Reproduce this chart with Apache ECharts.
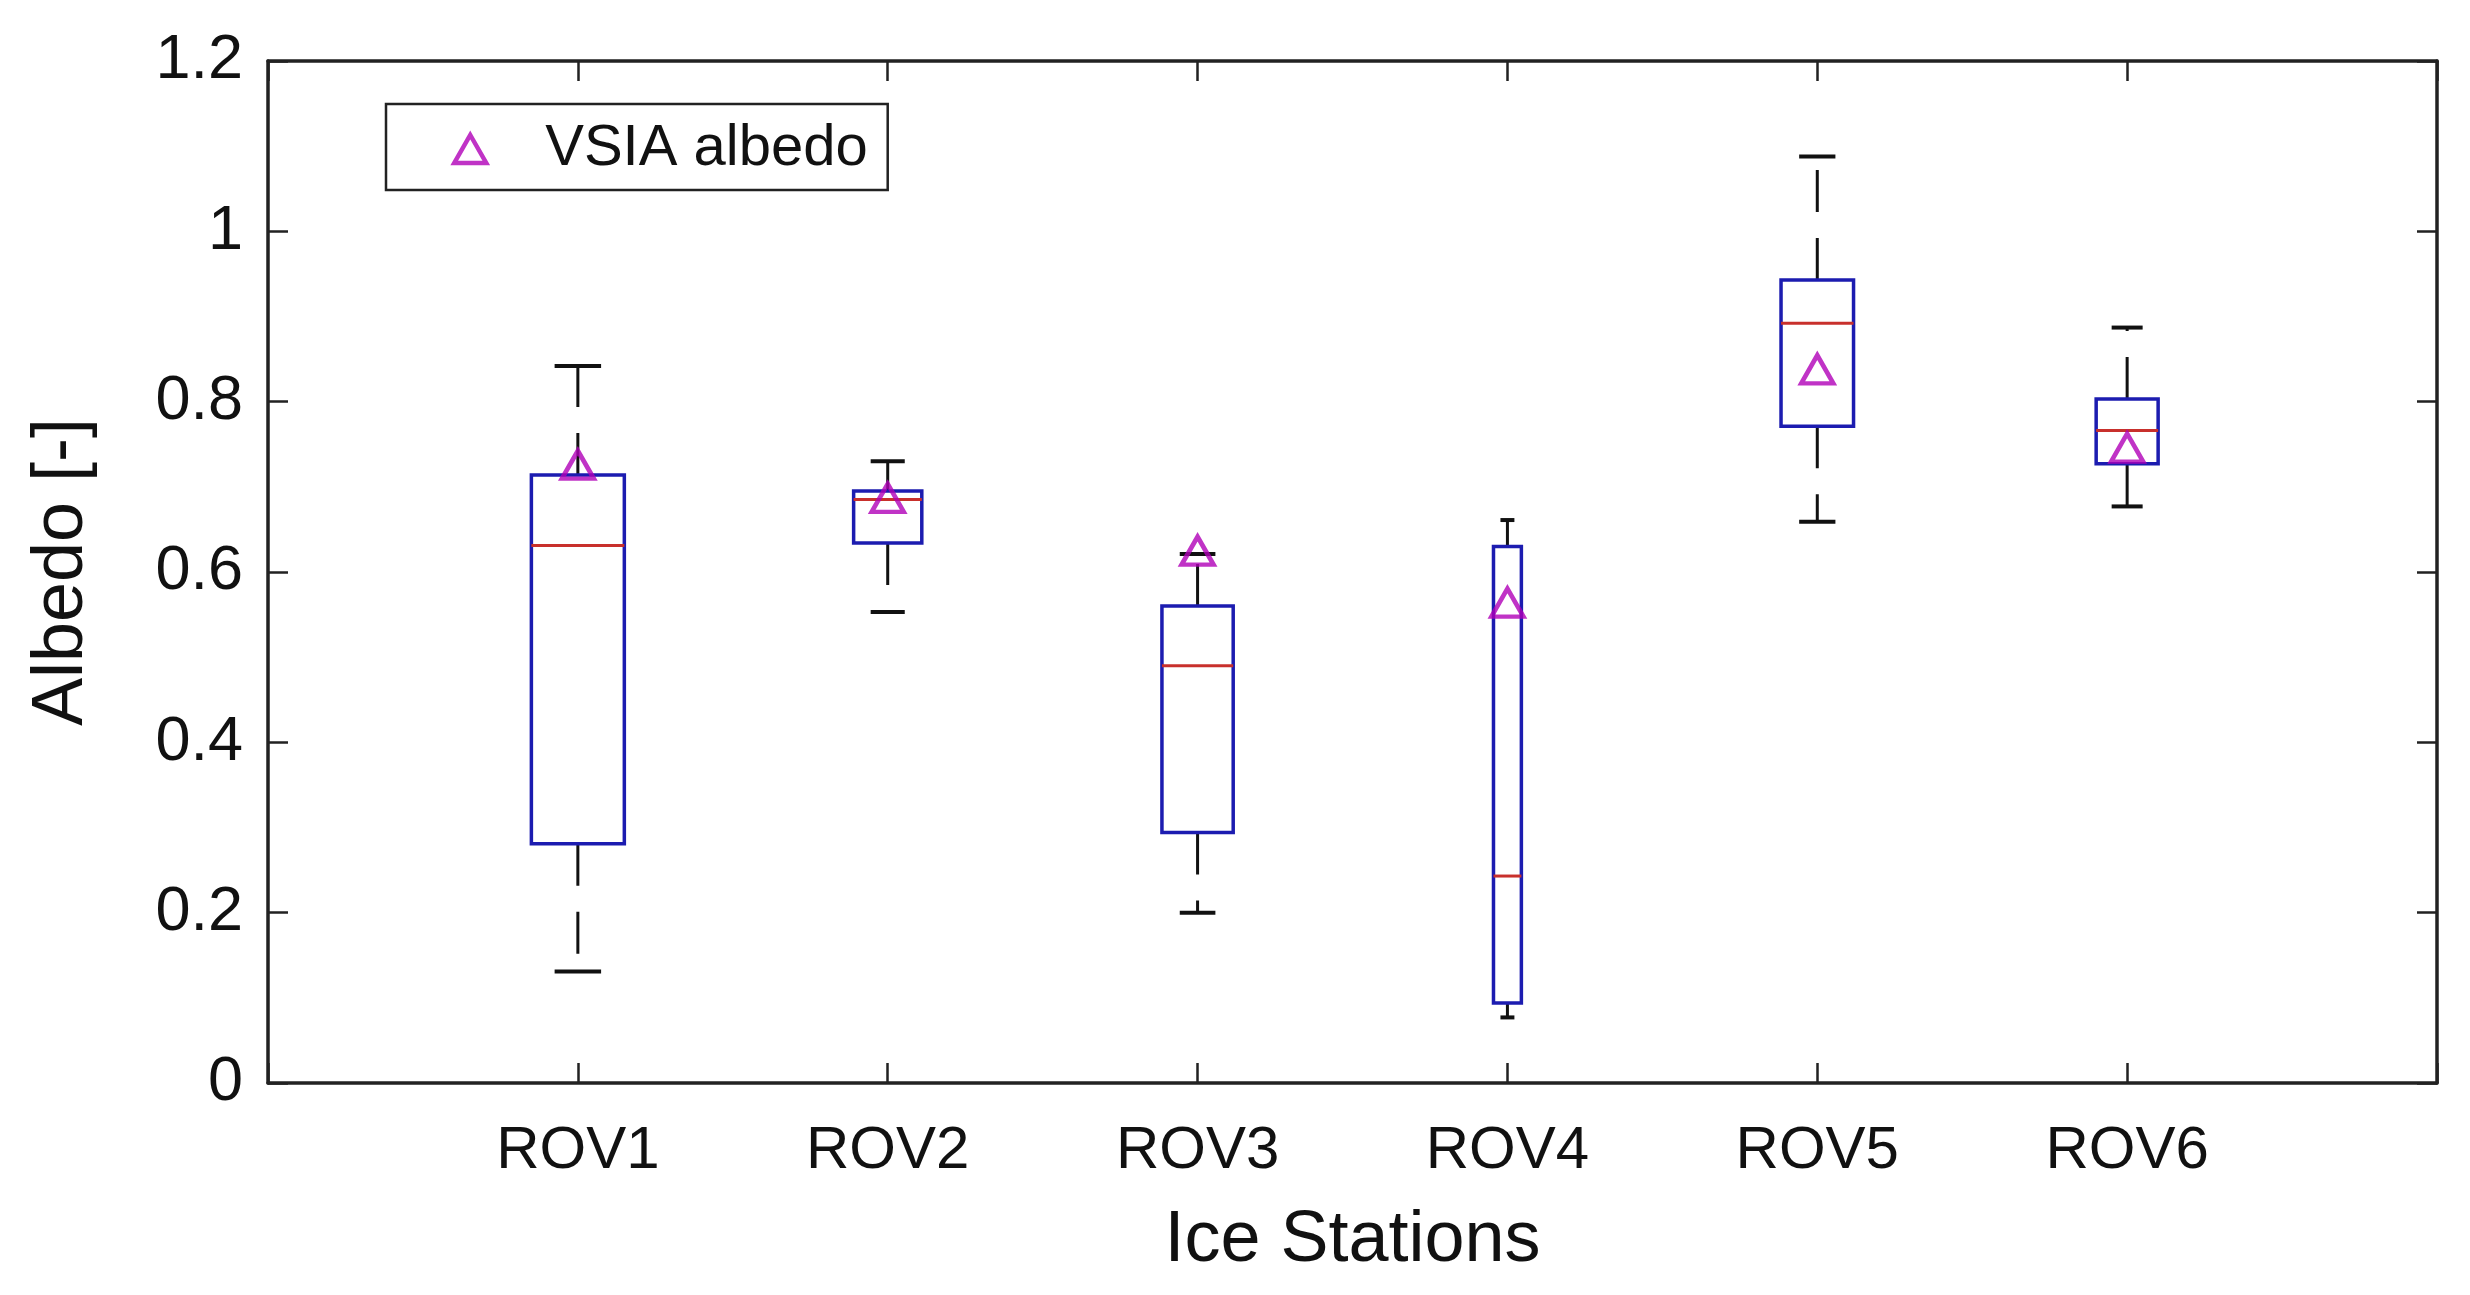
<!DOCTYPE html>
<html>
<head>
<meta charset="utf-8">
<title>Albedo per ice station</title>
<script src="https://cdn.jsdelivr.net/npm/echarts@6/dist/echarts.min.js"></script>
<style>
  html, body { margin: 0; padding: 0; background: #fff; }
  #chart { width: 2470px; height: 1295px; }
</style>
</head>
<body>
<div id="chart"></div>
<script>
// stations along the x axis
var stations = ['ROV1', 'ROV2', 'ROV3', 'ROV4', 'ROV5', 'ROV6'];

// box plot statistics
var whiskerLow  = [0.131, 0.553, 0.200, 0.077, 0.659, 0.677];
var quartile1   = [0.281, 0.634, 0.294, 0.094, 0.771, 0.727];
var median      = [0.631, 0.685, 0.490, 0.243, 0.892, 0.766];
var quartile3   = [0.714, 0.695, 0.560, 0.630, 0.943, 0.803];
var whiskerHigh = [0.842, 0.730, 0.621, 0.661, 1.088, 0.887];

// VSIA albedo per station
var vsiaAlbedo  = [0.726, 0.687, 0.625, 0.564, 0.838, 0.746];

// y tick values
var yTicks = [0, 0.2, 0.4, 0.6, 0.8, 1, 1.2];

// box widths in x units (style only)
var boxWidths = [0.30, 0.22, 0.23, 0.09, 0.234, 0.20];

var FONT = '"Liberation Sans", Arial, Helvetica, sans-serif';
var BOX_COLOR = '#1c1cb0';
var MED_COLOR = '#c8302c';
var WHISK_COLOR = '#111';
var TRI_COLOR = '#b000b8';

var chart = echarts.init(document.getElementById('chart'));

var boxData = stations.map(function (s, i) {
  return [i + 1, whiskerLow[i], quartile1[i], median[i], quartile3[i], whiskerHigh[i]];
});

function renderBox(params, api) {
  var i = params.dataIndex;
  var x = api.value(0);
  var pLow = api.coord([x, api.value(1)]);
  var pQ1 = api.coord([x, api.value(2)]);
  var pMed = api.coord([x, api.value(3)]);
  var pQ3 = api.coord([x, api.value(4)]);
  var pHigh = api.coord([x, api.value(5)]);
  var w = api.size([boxWidths[i], 0])[0];
  var cx = pMed[0];
  var half = w / 2;
  var capHalf = w / 4;
  var whiskStyle = { stroke: WHISK_COLOR, lineWidth: 3, lineDash: [42, 26] };
  var capStyle = { stroke: WHISK_COLOR, lineWidth: 4 };
  return {
    type: 'group',
    children: [
      { type: 'line', shape: { x1: cx, y1: pQ3[1], x2: cx, y2: pHigh[1] }, style: whiskStyle },
      { type: 'line', shape: { x1: cx, y1: pQ1[1], x2: cx, y2: pLow[1] }, style: whiskStyle },
      { type: 'line', shape: { x1: cx - capHalf, y1: pHigh[1], x2: cx + capHalf, y2: pHigh[1] }, style: capStyle },
      { type: 'line', shape: { x1: cx - capHalf, y1: pLow[1], x2: cx + capHalf, y2: pLow[1] }, style: capStyle },
      {
        type: 'rect',
        shape: { x: cx - half, y: pQ3[1], width: w, height: pQ1[1] - pQ3[1] },
        style: { fill: 'none', stroke: BOX_COLOR, lineWidth: 3.5 }
      },
      { type: 'line', shape: { x1: cx - half, y1: pMed[1], x2: cx + half, y2: pMed[1] }, style: { stroke: MED_COLOR, lineWidth: 3 } }
    ]
  };
}

var axisLineStyle = { color: '#222', width: 3.5 };
var tickStyle = { show: true, inside: true, length: 20, lineStyle: { color: '#222', width: 2.5 } };

var option = {
  backgroundColor: '#fff',
  animation: false,
  grid: { left: 268, right: 33, top: 61, bottom: 212 },
  legend: {
    data: ['VSIA albedo'],
    left: 386,
    top: 104,
    orient: 'vertical',
    backgroundColor: '#fff',
    borderColor: '#222',
    borderWidth: 2.5,
    borderRadius: 0,
    padding: [16, 20, 12, 66],
    itemWidth: 32,
    itemHeight: 28,
    itemStyle: { color: 'rgba(255,255,255,0)', borderColor: TRI_COLOR, borderWidth: 4.5 },
    textStyle: { fontFamily: FONT, fontSize: 58, color: '#111', padding: [8, 0, 0, 54] }
  },
  xAxis: [{
    type: 'value',
    min: 0,
    max: 7,
    interval: 1,
    position: 'bottom',
    name: 'Ice Stations',
    nameLocation: 'middle',
    nameGap: 122,
    nameTextStyle: { fontFamily: FONT, fontSize: 72, color: '#111' },
    axisLine: { show: true, onZero: false, lineStyle: axisLineStyle },
    axisTick: tickStyle,
    axisLabel: {
      fontFamily: FONT, fontSize: 60, color: '#111', margin: 38,
      formatter: function (v) { return stations[v - 1] || ''; }
    },
    splitLine: { show: false }
  }, {
    type: 'value',
    min: 0,
    max: 7,
    interval: 1,
    position: 'top',
    axisLine: { show: true, onZero: false, lineStyle: axisLineStyle },
    axisTick: tickStyle,
    axisLabel: { show: false },
    splitLine: { show: false }
  }],
  yAxis: [{
    type: 'value',
    min: 0,
    max: 1.2,
    interval: 0.2,
    position: 'left',
    name: 'Albedo [-]',
    nameLocation: 'middle',
    nameGap: 170,
    nameTextStyle: { fontFamily: FONT, fontSize: 72, color: '#111' },
    axisLine: { show: true, onZero: false, lineStyle: axisLineStyle },
    axisTick: tickStyle,
    axisLabel: {
      fontFamily: FONT, fontSize: 63, color: '#111', margin: 25,
      formatter: function (v) {
        var t = yTicks.filter(function (k) { return Math.abs(k - v) < 1e-6; })[0];
        return t === undefined ? '' : String(t);
      }
    },
    splitLine: { show: false }
  }, {
    type: 'value',
    min: 0,
    max: 1.2,
    interval: 0.2,
    position: 'right',
    axisLine: { show: true, onZero: false, lineStyle: axisLineStyle },
    axisTick: tickStyle,
    axisLabel: { show: false },
    splitLine: { show: false }
  }],
  series: [{
    name: 'stats',
    type: 'custom',
    xAxisIndex: 0,
    yAxisIndex: 0,
    renderItem: renderBox,
    data: boxData,
    z: 2
  }, {
    name: 'VSIA albedo',
    type: 'scatter',
    xAxisIndex: 0,
    yAxisIndex: 0,
    symbol: 'triangle',
    symbolSize: [32, 28],
    itemStyle: { color: 'rgba(255,255,255,0)', borderColor: TRI_COLOR, borderWidth: 4.5 },
    data: vsiaAlbedo.map(function (v, i) { return [i + 1, v]; }),
    z: 5
  }]
};

chart.setOption(option);
</script>
</body>
</html>
